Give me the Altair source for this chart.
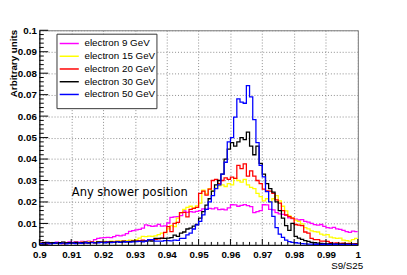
import altair as alt
import pandas as pd

# ---- series definitions ----
series_names = ["electron 9 GeV", "electron 15 GeV", "electron 20 GeV",
                "electron 30 GeV", "electron 50 GeV"]
series_colors = ["#ff00ff", "#ffff00", "#ff0000", "#000000", "#0000ff"]

# histogram binning (S9/S25): 100 bins from 0.9 to 1.0
bin_lo = 0.9
bin_hi = 1.0
n_bins = 100

# bin contents (arbitrary units), bins 0.900 ... 0.999
e9 = [0.0010, 0.0012, 0.0008, 0.0011, 0.0009, 0.0013, 0.0010, 0.0012, 0.0011, 0.0014,
      0.0012, 0.0015, 0.0013, 0.0016, 0.0014, 0.0017, 0.0015, 0.0024, 0.0030, 0.0033,
      0.0034, 0.0035, 0.0034, 0.0038, 0.0044, 0.0042, 0.0046, 0.0052, 0.0063, 0.0066,
      0.0070, 0.0072, 0.0078, 0.0093, 0.0090, 0.0086, 0.0088, 0.0096, 0.0087, 0.0089,
      0.0102, 0.0128, 0.0131, 0.0132, 0.0136, 0.0158, 0.0152, 0.0155, 0.0153, 0.0156,
      0.0160, 0.0168, 0.0165, 0.0170, 0.0168, 0.0172, 0.0164, 0.0166, 0.0163, 0.0172,
      0.0187, 0.0186, 0.0180, 0.0184, 0.0188, 0.0183, 0.0178, 0.0150, 0.0155, 0.0160,
      0.0187, 0.0186, 0.0165, 0.0163, 0.0150, 0.0145, 0.0142, 0.0138, 0.0126, 0.0122,
      0.0120, 0.0116, 0.0118, 0.0110, 0.0106, 0.0100, 0.0094, 0.0092, 0.0095, 0.0086,
      0.0080, 0.0078, 0.0082, 0.0075, 0.0072, 0.0068, 0.0062, 0.0058, 0.0064, 0.0062]

e15 = [0.0008, 0.0010, 0.0007, 0.0009, 0.0011, 0.0008, 0.0010, 0.0012, 0.0009, 0.0011,
       0.0010, 0.0012, 0.0011, 0.0013, 0.0010, 0.0014, 0.0012, 0.0013, 0.0015, 0.0014,
       0.0016, 0.0015, 0.0017, 0.0016, 0.0018, 0.0019, 0.0017, 0.0020, 0.0022, 0.0021,
       0.0024, 0.0032, 0.0040, 0.0038, 0.0041, 0.0040, 0.0042, 0.0048, 0.0055, 0.0057,
       0.0075, 0.0090, 0.0085, 0.0125, 0.0150, 0.0165, 0.0175, 0.0180, 0.0172, 0.0182,
       0.0195, 0.0255, 0.0238, 0.0262, 0.0250, 0.0265, 0.0275, 0.0280, 0.0272, 0.0285,
       0.0280, 0.0310, 0.0300, 0.0292, 0.0305, 0.0280, 0.0268, 0.0262, 0.0240, 0.0225,
       0.0205, 0.0215, 0.0200, 0.0215, 0.0230, 0.0205, 0.0180, 0.0158, 0.0135, 0.0125,
       0.0115, 0.0110, 0.0098, 0.0080, 0.0075, 0.0065, 0.0062, 0.0060, 0.0050, 0.0046,
       0.0048, 0.0036, 0.0033, 0.0030, 0.0032, 0.0022, 0.0020, 0.0018, 0.0024, 0.0030]

e20 = [0.0006, 0.0008, 0.0005, 0.0009, 0.0007, 0.0010, 0.0008, 0.0006, 0.0009, 0.0011,
       0.0008, 0.0010, 0.0009, 0.0012, 0.0010, 0.0011, 0.0013, 0.0010, 0.0012, 0.0014,
       0.0012, 0.0015, 0.0013, 0.0014, 0.0016, 0.0013, 0.0017, 0.0015, 0.0016, 0.0018,
       0.0018, 0.0020, 0.0022, 0.0020, 0.0024, 0.0022, 0.0026, 0.0028, 0.0030, 0.0058,
       0.0085, 0.0062, 0.0100, 0.0105, 0.0150, 0.0152, 0.0130, 0.0165, 0.0170, 0.0175,
       0.0240, 0.0250, 0.0232, 0.0260, 0.0300, 0.0305, 0.0285, 0.0300, 0.0312, 0.0305,
       0.0316, 0.0310, 0.0370, 0.0355, 0.0378, 0.0320, 0.0345, 0.0320, 0.0300, 0.0285,
       0.0260, 0.0252, 0.0250, 0.0240, 0.0210, 0.0195, 0.0160, 0.0140, 0.0132, 0.0125,
       0.0095, 0.0092, 0.0090, 0.0060, 0.0055, 0.0030, 0.0025, 0.0024, 0.0018, 0.0017,
       0.0016, 0.0010, 0.0008, 0.0009, 0.0007, 0.0008, 0.0006, 0.0007, 0.0005, 0.0006]

e30 = [0.0008, 0.0010, 0.0012, 0.0009, 0.0011, 0.0008, 0.0010, 0.0013, 0.0009, 0.0011,
       0.0010, 0.0012, 0.0009, 0.0011, 0.0013, 0.0010, 0.0012, 0.0011, 0.0014, 0.0012,
       0.0013, 0.0011, 0.0014, 0.0012, 0.0015, 0.0013, 0.0016, 0.0014, 0.0015, 0.0017,
       0.0017, 0.0016, 0.0018, 0.0017, 0.0019, 0.0018, 0.0030, 0.0030, 0.0031, 0.0030,
       0.0032, 0.0034, 0.0045, 0.0040, 0.0055, 0.0060, 0.0074, 0.0078, 0.0087, 0.0095,
       0.0125, 0.0155, 0.0185, 0.0215, 0.0250, 0.0280, 0.0300, 0.0330, 0.0400, 0.0446,
       0.0477, 0.0460, 0.0480, 0.0500, 0.0490, 0.0525, 0.0460, 0.0420, 0.0460, 0.0380,
       0.0330, 0.0285, 0.0262, 0.0246, 0.0200, 0.0160, 0.0125, 0.0090, 0.0068, 0.0100,
       0.0040, 0.0032, 0.0026, 0.0020, 0.0016, 0.0012, 0.0010, 0.0008, 0.0007, 0.0006,
       0.0005, 0.0006, 0.0004, 0.0005, 0.0004, 0.0005, 0.0003, 0.0004, 0.0003, 0.0004]

e50 = [0.0006, 0.0004, 0.0008, 0.0005, 0.0007, 0.0009, 0.0006, 0.0008, 0.0005, 0.0007,
       0.0008, 0.0006, 0.0009, 0.0007, 0.0010, 0.0008, 0.0011, 0.0009, 0.0010, 0.0012,
       0.0010, 0.0013, 0.0011, 0.0012, 0.0014, 0.0012, 0.0013, 0.0015, 0.0013, 0.0014,
       0.0015, 0.0016, 0.0014, 0.0017, 0.0025, 0.0024, 0.0018, 0.0017, 0.0018, 0.0020,
       0.0020, 0.0019, 0.0022, 0.0021, 0.0030, 0.0030, 0.0047, 0.0055, 0.0074, 0.0093,
       0.0110, 0.0140, 0.0165, 0.0200, 0.0230, 0.0262, 0.0280, 0.0330, 0.0385, 0.0480,
       0.0500, 0.0595, 0.0680, 0.0665, 0.0660, 0.0742, 0.0690, 0.0584, 0.0477, 0.0370,
       0.0317, 0.0248, 0.0200, 0.0133, 0.0080, 0.0050, 0.0035, 0.0022, 0.0015, 0.0012,
       0.0010, 0.0008, 0.0006, 0.0005, 0.0004, 0.0004, 0.0003, 0.0003, 0.0002, 0.0003,
       0.0002, 0.0002, 0.0003, 0.0002, 0.0002, 0.0001, 0.0002, 0.0001, 0.0002, 0.0001]

# axis ticks
x_major = [0.9, 0.91, 0.92, 0.93, 0.94, 0.95, 0.96, 0.97, 0.98, 0.99, 1.0]
y_major = [0.0, 0.01, 0.02, 0.03, 0.04, 0.05, 0.06, 0.07, 0.08, 0.09, 0.1]
x_minor = [round(0.9 + 0.002 * i, 3) for i in range(51) if i % 5 != 0]
y_minor = [round(0.002 * i, 3) for i in range(51) if i % 5 != 0]

annotation = ["Any shower position"]
annotation_x = [0.9102]
annotation_y = [0.0229]

# ---- build long table (step histogram: left bin edges + closing edge) ----
edges = [round(bin_lo + i * (bin_hi - bin_lo) / n_bins, 4) for i in range(n_bins + 1)]
rows = []
for order, (name, vals) in enumerate(zip(series_names, [e9, e15, e20, e30, e50])):
    assert len(vals) == n_bins
    for i, e in enumerate(edges):
        rows.append({"x": e, "v": vals[min(i, n_bins - 1)], "series": name, "o": order})
df = pd.DataFrame(rows)

W, H = 325, 219
FONT = "Liberation Sans"

xs = alt.Scale(domain=[bin_lo, bin_hi], nice=False, zero=False)
ys = alt.Scale(domain=[0, 0.1], nice=False, zero=True)

x_axis = alt.Axis(values=x_major, format=".2~f", title="S9/S25", grid=True,
                  ticks=False, tickSize=0, labelFlush=False, labelOverlap=False,
                  labelPadding=5, labelFont=FONT, labelFontWeight="bold",
                  labelFontSize=10, labelColor="black",
                  titleFont=FONT, titleFontSize=10, titleFontWeight="normal",
                  titleColor="black", titleX=330, titleY=24.5, titleAlign="right",
                  titleBaseline="alphabetic",
                  domainColor="black", domainWidth=1,
                  gridDash=[1, 2], gridColor="#8a8a8a", gridWidth=1)
y_axis = alt.Axis(values=y_major, format=".2~f", title="Arbitrary units", grid=True,
                  ticks=False, tickSize=0, labelFlush=False, labelOverlap=False,
                  labelPadding=3, labelFont=FONT, labelFontWeight="bold",
                  labelFontSize=10, labelColor="black",
                  titleFont=FONT, titleFontSize=10, titleFontWeight="bold",
                  titleColor="black", titleX=-23, titleY=-1, titleAlign="right",
                  titleBaseline="alphabetic", titleAngle=270,
                  domainColor="black", domainWidth=1,
                  gridDash=[1, 2], gridColor="#8a8a8a", gridWidth=1)

hist = alt.Chart(df).mark_line(interpolate="step-after", strokeWidth=1.3, clip=True).encode(
    x=alt.X("x:Q", scale=xs, axis=x_axis, title="S9/S25"),
    y=alt.Y("v:Q", scale=ys, axis=y_axis, title="Arbitrary units"),
    color=alt.Color("series:N", sort=series_names,
                    scale=alt.Scale(domain=series_names, range=series_colors),
                    legend=alt.Legend(title=None, orient="none", legendX=18, legendY=4,
                                      direction="vertical", symbolType="M-1.5,0H1.5",
                                      symbolSize=169, symbolStrokeWidth=1.5,
                                      symbolOffset=3, labelOffset=8, rowPadding=0,
                                      padding=2, labelFont=FONT, labelFontSize=10,
                                      labelColor="black", labelLimit=200)),
    order=alt.Order("o:Q"),
)

legend_box = alt.Chart(pd.DataFrame({"a": [0]})).mark_rect(
    fill="white", stroke="#333333", strokeWidth=1
).encode(x=alt.value(18), x2=alt.value(120), y=alt.value(4), y2=alt.value(80))

xt_major = alt.Chart(pd.DataFrame({"t": x_major})).mark_rule(color="black", strokeWidth=1).encode(
    x=alt.X("t:Q", scale=xs, axis=x_axis, title="S9/S25"), y=alt.value(H), y2=alt.value(H - 6))
xt_minor = alt.Chart(pd.DataFrame({"t": x_minor})).mark_rule(color="black", strokeWidth=1).encode(
    x=alt.X("t:Q", scale=xs, axis=x_axis, title="S9/S25"), y=alt.value(H), y2=alt.value(H - 3))
yt_major = alt.Chart(pd.DataFrame({"t": y_major})).mark_rule(color="black", strokeWidth=1).encode(
    y=alt.Y("t:Q", scale=ys, axis=y_axis, title="Arbitrary units"), x=alt.value(0), x2=alt.value(9))
yt_minor = alt.Chart(pd.DataFrame({"t": y_minor})).mark_rule(color="black", strokeWidth=1).encode(
    y=alt.Y("t:Q", scale=ys, axis=y_axis, title="Arbitrary units"), x=alt.value(0), x2=alt.value(4.5))

label = alt.Chart(pd.DataFrame({"x": annotation_x, "y": annotation_y, "t": annotation})).mark_text(
    align="left", baseline="alphabetic", font="DejaVu Sans", fontSize=11.7, color="black"
).encode(x=alt.X("x:Q", scale=xs, axis=x_axis, title="S9/S25"),
         y=alt.Y("y:Q", scale=ys, axis=y_axis, title="Arbitrary units"),
         text="t:N")

chart = alt.layer(legend_box, hist, xt_major, xt_minor, yt_major, yt_minor, label).properties(
    width=W, height=H,
    padding={"left": 32, "top": 20, "right": 42, "bottom": 28},
    autosize=alt.AutoSizeParams(type="none"),
    background="white",
).configure_view(stroke="#777777", strokeWidth=1)

chart.save("out.html", embed_options={"renderer": "svg", "actions": False})
